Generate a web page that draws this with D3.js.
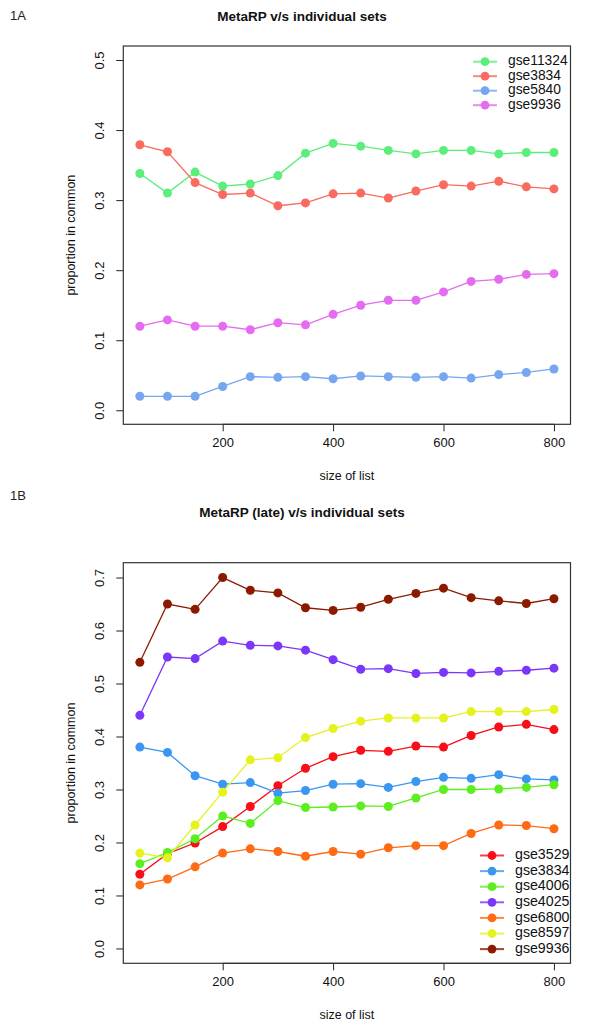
<!DOCTYPE html>
<html>
<head>
<meta charset="utf-8">
<script src="https://cdn.jsdelivr.net/npm/d3@7"></script>
<style>
  html, body { margin: 0; padding: 0; background: #fff; }
  svg { display: block; font-family: "Liberation Sans", Arial, Helvetica, sans-serif; }
</style>
</head>
<body>
<svg id="chart" width="600" height="1035"></svg>
<script>
// ---------- data ----------
const listSizes = [50,100,150,200,250,300,350,400,450,500,550,600,650,700,750,800];
const xTicks = [200,400,600,800];

// Panel 1A
const titleA = "MetaRP v/s individual sets";
const seriesNamesA = ["gse11324","gse3834","gse5840","gse9936"];
const colorsA = ["#5CEE7C","#F86B5E","#77A6F0","#E56CF0"];
const gse11324_A = [0.338,0.310,0.340,0.320,0.323,0.335,0.367,0.381,0.377,0.371,0.366,0.371,0.371,0.366,0.368,0.368];
const gse3834_A  = [0.379,0.369,0.325,0.308,0.310,0.292,0.296,0.309,0.310,0.303,0.313,0.322,0.320,0.327,0.319,0.316];
const gse5840_A  = [0.020,0.020,0.020,0.034,0.048,0.047,0.048,0.045,0.049,0.048,0.047,0.048,0.046,0.051,0.054,0.059];
const gse9936_A  = [0.120,0.129,0.120,0.120,0.115,0.125,0.122,0.137,0.150,0.157,0.157,0.169,0.184,0.187,0.194,0.195];
const yTicksA = [0.0,0.1,0.2,0.3,0.4,0.5];

// Panel 1B
const titleB = "MetaRP (late) v/s individual sets";
const seriesNamesB = ["gse3529","gse3834","gse4006","gse4025","gse6800","gse8597","gse9936"];
const colorsB = ["#F80D18","#3A96F0","#5CEE1E","#7B36FA","#FF6A14","#E6F21E","#8B1A00"];
const gse3529_B = [0.140,0.179,0.199,0.230,0.268,0.307,0.340,0.362,0.374,0.372,0.382,0.380,0.402,0.418,0.423,0.413];
const gse3834_B = [0.380,0.370,0.326,0.310,0.313,0.293,0.298,0.310,0.311,0.304,0.315,0.323,0.321,0.328,0.320,0.318];
const gse4006_B = [0.160,0.181,0.207,0.250,0.236,0.279,0.266,0.267,0.269,0.268,0.284,0.300,0.300,0.301,0.304,0.309];
const gse4025_B = [0.440,0.550,0.547,0.580,0.572,0.571,0.563,0.545,0.527,0.528,0.519,0.521,0.520,0.523,0.525,0.529];
const gse6800_B = [0.120,0.131,0.154,0.180,0.188,0.183,0.174,0.183,0.178,0.190,0.194,0.194,0.217,0.233,0.232,0.226];
const gse8597_B = [0.180,0.171,0.233,0.295,0.356,0.360,0.398,0.415,0.429,0.435,0.435,0.435,0.447,0.447,0.447,0.451];
const gse9936_B = [0.540,0.650,0.640,0.700,0.676,0.671,0.643,0.638,0.644,0.659,0.670,0.680,0.662,0.656,0.651,0.660];
const yTicksB = [0.0,0.1,0.2,0.3,0.4,0.5,0.6,0.7];

const xLabel = "size of list";
const yLabel = "proportion in common";

// ---------- drawing ----------
const svg = d3.select("#chart");
svg.append("rect").attr("width",600).attr("height",1035).attr("fill","#fff");

function drawPanel(opt) {
  const g = svg.append("g");
  const L = 123.3, R = 570.5;
  const x = d3.scaleLinear().domain([20, 830]).range([L, R]);
  const y = d3.scaleLinear().domain([opt.yMin, opt.yMax]).range([opt.bottom, opt.top]);

  // panel tag and title
  g.append("text").attr("x", 10).attr("y", opt.tagY).attr("font-size", 13)
    .attr("fill", "#222").attr("dominant-baseline", "middle").text(opt.tag);
  g.append("text").attr("x", 302).attr("y", opt.titleY).attr("font-size", 13.5)
    .attr("font-weight", "bold").attr("text-anchor", "middle")
    .attr("dominant-baseline", "middle").attr("fill", "#111").text(opt.title);

  // axes
  const xAxis = d3.axisBottom(x).tickValues(xTicks).tickSize(7).tickPadding(6)
    .tickFormat(d3.format("d"));
  const gx = g.append("g").attr("transform", `translate(0,${opt.bottom})`).call(xAxis);
  const yAxis = d3.axisLeft(y).tickValues(opt.yTicks).tickSize(7).tickPadding(0)
    .tickFormat(d3.format(".1f"));
  const gy = g.append("g").attr("transform", `translate(${L},0)`).call(yAxis);
  [gx, gy].forEach(a => {
    a.select(".domain").remove();
    a.selectAll(".tick line").attr("stroke", "#222").attr("stroke-width", 1);
    a.selectAll(".tick text").attr("font-size", 13).attr("fill", "#111")
      .attr("font-family", "'Liberation Sans', Arial, sans-serif");
  });
  // axis lines spanning first..last tick
  g.append("line").attr("x1", x(xTicks[0])).attr("x2", x(xTicks[xTicks.length-1]))
    .attr("y1", opt.bottom).attr("y2", opt.bottom).attr("stroke", "#222");
  // rotate y tick labels (R style, reading upward)
  gy.selectAll(".tick text")
    .attr("x", null).attr("dy", null)
    .attr("text-anchor", "middle")
    .attr("dominant-baseline", "middle")
    .attr("transform", "translate(-23,0) rotate(-90)");

  // box
  g.append("rect").attr("x", L).attr("y", opt.top).attr("width", R - L)
    .attr("height", opt.bottom - opt.top).attr("fill", "none")
    .attr("stroke", "#333").attr("stroke-width", 1.2);

  // axis labels
  g.append("text").attr("x", (L + R) / 2).attr("y", opt.bottom + 52)
    .attr("text-anchor", "middle").attr("dominant-baseline", "middle")
    .attr("font-size", 12.5).attr("fill", "#111").text(xLabel);
  g.append("text").attr("transform", `translate(72,${(opt.top + opt.bottom) / 2}) rotate(-90)`)
    .attr("text-anchor", "middle").attr("dominant-baseline", "middle")
    .attr("font-size", 12.5).attr("fill", "#111").text(yLabel);

  // series
  const line = d3.line().x((d, i) => x(listSizes[i])).y(d => y(d));
  opt.series.forEach((vals, k) => {
    const c = opt.colors[k];
    g.append("path").datum(vals).attr("d", line).attr("fill", "none")
      .attr("stroke", c).attr("stroke-width", 1.3);
    g.selectAll(null).data(vals).enter().append("circle")
      .attr("cx", (d, i) => x(listSizes[i])).attr("cy", d => y(d))
      .attr("r", 4.5).attr("fill", c);
  });

  // legend
  const lg = g.append("g");
  opt.names.forEach((nm, k) => {
    const yy = opt.legY + k * opt.legStep;
    lg.append("line").attr("x1", opt.legX).attr("x2", opt.legX + 24)
      .attr("y1", yy).attr("y2", yy).attr("stroke", opt.colors[k])
      .attr("stroke-width", 2).attr("stroke-opacity", 0.8);
    lg.append("circle").attr("cx", opt.legX + 12).attr("cy", yy).attr("r", 4.4)
      .attr("fill", opt.colors[k]);
    lg.append("text").attr("x", opt.legX + 35).attr("y", yy)
      .attr("dominant-baseline", "middle").attr("font-size", opt.legFont)
      .attr("fill", "#111").text(nm);
  });
}

drawPanel({
  tag: "1A", tagY: 17, title: titleA, titleY: 17,
  top: 46, bottom: 424.3, yMin: -0.02, yMax: 0.52, yTicks: yTicksA,
  series: [gse11324_A, gse3834_A, gse5840_A, gse9936_A],
  names: seriesNamesA, colors: colorsA,
  legX: 473, legY: 61.7, legStep: 14.5, legFont: 13.8
});

drawPanel({
  tag: "1B", tagY: 497, title: titleB, titleY: 513,
  top: 562.7, bottom: 963.3, yMin: -0.028, yMax: 0.728, yTicks: yTicksB,
  series: [gse3529_B, gse3834_B, gse4006_B, gse4025_B, gse6800_B, gse8597_B, gse9936_B],
  names: seriesNamesB, colors: colorsB,
  legX: 480, legY: 855.5, legStep: 15.6, legFont: 14.2
});
</script>
</body>
</html>
